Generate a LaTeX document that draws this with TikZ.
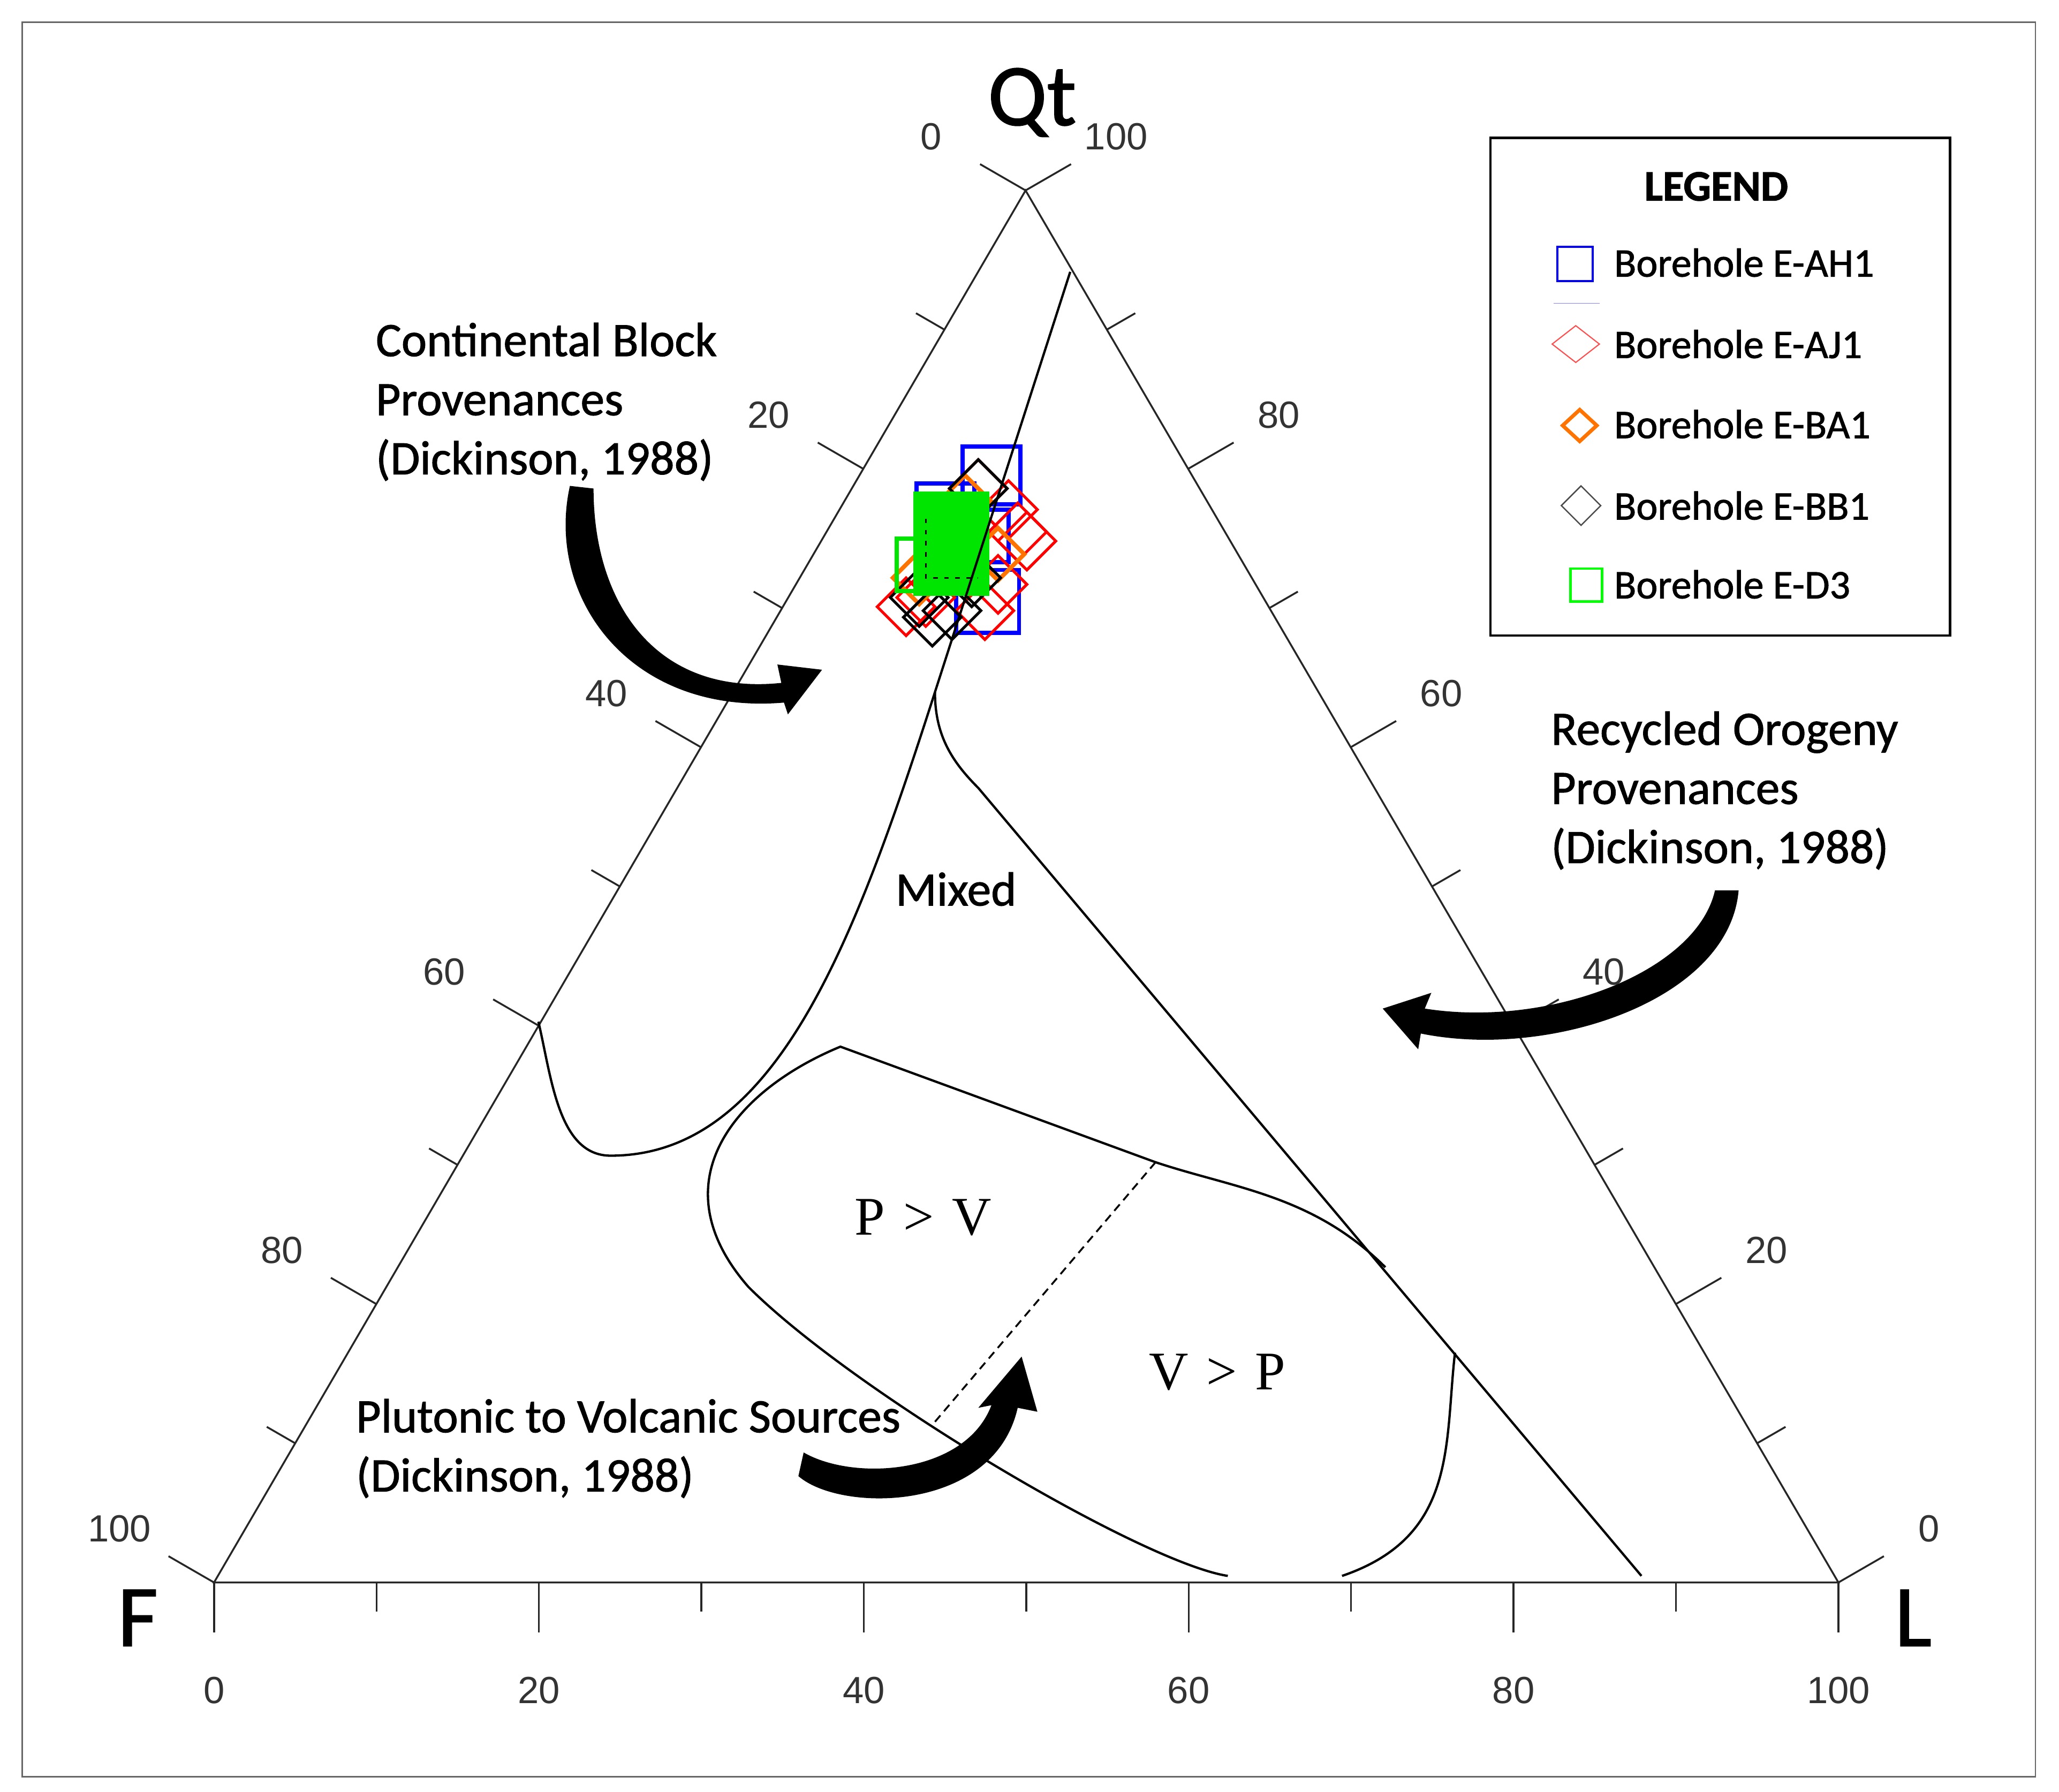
\documentclass[tikz,border=0pt]{standalone}
\usepackage{fontspec}
\setmainfont{Carlito}[BoldFont=Carlito,BoldFeatures={FakeBold=1.2}]
\newfontfamily\hb{Carlito}[FakeBold=1.2]
\newfontfamily\hbb{Carlito Bold}[FakeBold=1.5]
\newfontfamily\numf{Liberation Sans}
\newfontfamily\serf{Liberation Serif}
\begin{document}
\begin{tikzpicture}[x=0.1cm,y=-0.1cm,
  ax/.style={line width=4pt,draw=black!85},
  fld/.style={line width=5pt,black},
  num/.style={font=\numf\fontsize{82}{90}\selectfont,text=black!80},
  lab/.style={font=\hb\fontsize{104}{128}\selectfont,align=left,anchor=west},
  big/.style={font=\hb\fontsize{190}{200}\selectfont},
  blu/.style={draw=blue,line width=9pt},
  red/.style={draw=red,line width=6pt},
  org/.style={draw=orange!90!red,line width=9pt},
  blk/.style={draw=black,line width=6pt},
  grn/.style={draw=green!90!black,line width=9pt}]
\useasboundingbox (0,0) rectangle (1568,1364.5);
\draw[line width=3pt,black!60] (17,17) rectangle (1550,1353);
\coordinate (Q) at (781,145);
\coordinate (F) at (163,1205);
\coordinate (L) at (1400,1205);
% data markers
\foreach \x/\y/\s in {755/362/22,720/390/22,748/408/20,752/458/24}
  \draw[blu] (\x-\s,\y-\s) rectangle (\x+\s,\y+\s);
\foreach \x/\y in {690/462,775/405,768/388,745/372,760/445,782/412,705/455,750/465}
  \draw[red] (\x,\y-22) -- (\x+22,\y) -- (\x,\y+22) -- (\x-22,\y) -- cycle;
\foreach \x/\y in {700/440,760/422,735/382}
  \draw[org] (\x,\y-20) -- (\x+20,\y) -- (\x,\y+20) -- (\x-20,\y) -- cycle;
\foreach \x/\y in {710/470,740/440,745/372,700/455,725/465}
  \draw[blk] (\x,\y-22) -- (\x+22,\y) -- (\x,\y+22) -- (\x-22,\y) -- cycle;
\fill[green!90!black] (697,376) rectangle (752,452);
\draw[grn] (683,410) rectangle (745,450);
\draw[grn] (697,376) rectangle (752,452);
\draw[black,line width=4pt,dash pattern=on 10pt off 14pt] (705,395) -- (705,440) -- (745,440);
% triangle
\draw[ax] (Q) -- (F) -- (L) -- cycle;
\foreach \k in {0,...,10}{
  \pgfmathsetmacro\tl{mod(\k,2)==0?40:25}
  \draw[ax] (781-61.8*\k,145+106*\k) -- ++(-0.866*\tl,-0.5*\tl);
  \draw[ax] (781+61.9*\k,145+106*\k) -- ++(0.866*\tl,-0.5*\tl);
  \pgfmathsetmacro\tb{mod(\k,2)==0?38:22}
  \draw[ax] (163+123.7*\k,1205) -- ++(0,\tb);
}
\foreach \k in {0,2,...,10}{
  \pgfmathtruncatemacro\v{10*\k}
  \pgfmathtruncatemacro\w{100-10*\k}
  \node[num] (ln\k) at (781-61.8*\k-72,145+106*\k-41) {\v};
  \node[num] (rn\k) at (781+61.9*\k+69,145+106*\k-41) {\w};
  \node[num] (bn\k) at (163+123.7*\k,1287) {\v};
}
\node[big] (qt) at (786,78) {Qt};
\node[big] (fl) at (105,1232) {F};
\node[big] (ll) at (1457,1232) {L};
% fields
\coordinate (a1) at (815,207);
\coordinate (a2) at (712,527);
\coordinate (a3) at (465,880);
\coordinate (a4) at (410,778);
\draw[fld] (a1) -- (a2) .. controls (650,720) and (590,880) .. (a3) .. controls (425,880) and (420,820) .. (a4);
\coordinate (b1) at (745,600);
\coordinate (b2) at (1250,1200);
\draw[fld] (a2) .. controls (712,560) and (725,580) .. (b1) -- (b2);
\coordinate (c1) at (640,797);
\coordinate (c2) at (880,885);
\coordinate (c3) at (1055,965);
\coordinate (c4) at (935,1200);
\draw[fld] (c3) .. controls (1000,910) and (940,905) .. (c2) -- (c1) .. controls (560,830) and (500,900) .. (570,980) .. controls (650,1060) and (870,1190) .. (c4);
\coordinate (d1) at (1108,1030);
\coordinate (d2) at (1022,1200);
\draw[fld] (d1) .. controls (1100,1100) and (1110,1170) .. (d2);
\coordinate (e2) at (710,1085);
\draw[fld,dash pattern=on 18pt off 12pt,line width=4pt] (c2) -- (e2);
% arrows
\fill[black] (434,370) .. controls (415,455) and (480,545) .. (597,535) -- (600,544) -- (626,510) -- (592,506) -- (595,520) .. controls (500,530) and (452,460) .. (452,372) -- cycle;
\fill[black] (1324,678) .. controls (1317,762) and (1180,807) .. (1082,787) -- (1080,799) -- (1053,768) -- (1090,756) -- (1085,768) .. controls (1180,783) and (1292,740) .. (1306,678) -- cycle;
\fill[black] (612,1106) .. controls (650,1128) and (735,1123) .. (755,1070) -- (745,1072) -- (778,1033) -- (790,1075) -- (775,1072) .. controls (757,1152) and (640,1152) .. (608,1124) -- cycle;
% labels
\node[lab] (cb) at (285,306) {Continental Block\\Provenances\\(Dickinson, 1988)};
\node[lab] (ro) at (1180,602) {Recycled Orogeny\\Provenances\\(Dickinson, 1988)};
\node[lab] (pv) at (270,1103) {Plutonic to Volcanic Sources\\(Dickinson, 1988)};
\node[font=\hb\fontsize{104}{110}\selectfont] (mx) at (728,677) {Mixed};
\node[font=\serf\fontsize{118}{130}\selectfont] (p1) at (703,927) {P\,\,>\,\,V};
\node[font=\serf\fontsize{118}{130}\selectfont] (p2) at (927,1045) {V\,\,>\,\,P};
% legend
\draw[line width=5pt] (1135,105) rectangle (1485,484);
\node[font=\hbb\fontsize{94}{100}\selectfont] (lg) at (1307,142) {LEGEND};
\foreach \y/\t [count=\i] in {200/Borehole E-AH1,262/Borehole E-AJ1,323/Borehole E-BA1,385/Borehole E-BB1,445/Borehole E-D3}
  \node[font=\hb\fontsize{88}{90}\selectfont,anchor=west] (le\i) at (1228,\y) {\t};
\draw[draw=blue,line width=5pt] (1186,188) rectangle (1213,214);
\draw[draw=blue!50,line width=1.5pt] (1183,231) -- (1218,231);
\draw[draw=red!70,line width=2.5pt] (1200,248) -- (1218,262) -- (1200,276) -- (1182,262) -- cycle;
\draw[draw=orange!90!red,line width=8pt] (1203,312) -- (1216,324) -- (1203,336) -- (1190,324) -- cycle;
\draw[draw=black!70,line width=3pt] (1204,370) -- (1219,385) -- (1204,400) -- (1189,385) -- cycle;
\draw[draw=green,line width=5pt] (1196,433) rectangle (1220,458);
\end{tikzpicture}
\end{document}
